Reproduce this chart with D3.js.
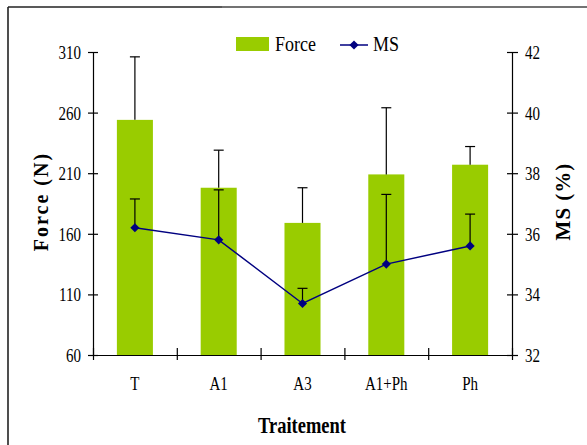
<!DOCTYPE html>
<html>
<head>
<meta charset="utf-8">
<script src="https://cdn.jsdelivr.net/npm/d3@7"></script>
<style>
  html, body { margin: 0; padding: 0; background: #fff; }
  svg { display: block; font-family: "Liberation Serif", "Times New Roman", "DejaVu Serif", serif; }
  svg text { font-family: "Liberation Serif", "Times New Roman", "DejaVu Serif", serif; }
</style>
</head>
<body>
<svg id="chart" width="587" height="445"></svg>
<script>
// ---- data ----
const categories = ["T", "A1", "A3", "A1+Ph", "Ph"];
const forceValues = [254, 198, 169, 209, 217];
const forceErrors = [52, 31, 29, 55, 15];
const msValues = [36.2, 35.8, 33.7, 35.0, 35.6];
const msErrors = [0.95, 1.65, 0.5, 2.3, 1.05];
const forceTicks = [60, 110, 160, 210, 260, 310];
const msTicks = [32, 34, 36, 38, 40, 42];
const seriesNames = ["Force", "MS"];
const xTitle = "Traitement";
const yLeftTitle = "Force (N)";
const yRightTitle = "MS (%)";

(function () {
// ---- layout ----
const svg = d3.select("#chart");
const pLeft = 93, pRight = 512, pTop = 52, pBottom = 355;
const SY = 1.3; // vertical stretch of the original texts
const barColor = "#99CC00";
const lineColor = "#000080";

const x = d3.scaleBand().domain(categories).range([pLeft, pRight])
  .paddingInner(0.57).paddingOuter(0.285);
const xb = d3.scaleLinear().domain([0, categories.length]).range([pLeft, pRight]);
const yL = d3.scaleLinear().domain([60, 310]).range([pBottom, pTop]);
const yR = d3.scaleLinear().domain([32, 42]).range([pBottom, pTop]);
const cx = d => x(d) + x.bandwidth() / 2;

// frame
svg.append("line").attr("x1", 8).attr("x2", 222).attr("y1", 7).attr("y2", 7)
  .attr("stroke", "#222").attr("stroke-width", 1.6);
svg.append("line").attr("x1", 222).attr("x2", 587).attr("y1", 7).attr("y2", 7)
  .attr("stroke", "#444").attr("stroke-width", 1.6);
svg.append("line").attr("x1", 8).attr("x2", 8).attr("y1", 7).attr("y2", 445)
  .attr("stroke", "#222").attr("stroke-width", 1.6);

// bars
svg.append("g").selectAll("rect").data(categories).join("rect")
  .attr("x", d => x(d)).attr("width", x.bandwidth())
  .attr("y", (d, i) => yL(forceValues[i]))
  .attr("height", (d, i) => yL(60) - yL(forceValues[i]))
  .attr("fill", barColor);

// force error bars
const capW = 5;
const fe = svg.append("g").attr("stroke", "#000").attr("stroke-width", 1.2);
categories.forEach((c, i) => {
  const xc = cx(c);
  fe.append("line").attr("x1", xc).attr("x2", xc)
    .attr("y1", yL(forceValues[i])).attr("y2", yL(forceValues[i] + forceErrors[i]));
  fe.append("line").attr("x1", xc - capW).attr("x2", xc + capW)
    .attr("y1", yL(forceValues[i] + forceErrors[i])).attr("y2", yL(forceValues[i] + forceErrors[i]));
});

// MS error bars
const me = svg.append("g").attr("stroke", "#000").attr("stroke-width", 1.2);
categories.forEach((c, i) => {
  const xc = cx(c);
  me.append("line").attr("x1", xc).attr("x2", xc)
    .attr("y1", yR(msValues[i])).attr("y2", yR(msValues[i] + msErrors[i]));
  me.append("line").attr("x1", xc - capW).attr("x2", xc + capW)
    .attr("y1", yR(msValues[i] + msErrors[i])).attr("y2", yR(msValues[i] + msErrors[i]));
});

// MS line
const line = d3.line().x((d, i) => cx(categories[i])).y(d => yR(d));
svg.append("path").datum(msValues).attr("d", line)
  .attr("fill", "none").attr("stroke", lineColor).attr("stroke-width", 1.5);
const diamond = d3.symbol().type(d3.symbolSquare).size(42);
svg.append("g").selectAll("path").data(msValues).join("path")
  .attr("d", diamond)
  .attr("transform", (d, i) => `translate(${cx(categories[i])},${yR(d)}) rotate(45)`)
  .attr("fill", lineColor);

// axes
function styleAxis(g) {
  g.attr("font-family", null);
  g.select(".domain").attr("stroke", "#000").attr("stroke-width", 1.2);
  g.selectAll(".tick line").attr("stroke", "#000").attr("stroke-width", 1.2);
}
const gL = svg.append("g").attr("transform", `translate(${pLeft},0)`)
  .call(d3.axisLeft(yL).tickValues(forceTicks).tickSize(5).tickSizeOuter(0).tickFormat(d3.format("d")));
styleAxis(gL);
gL.selectAll(".tick line").attr("x2", -5).attr("x1", 5);
gL.selectAll(".tick text").attr("x", -12).attr("dy", null).attr("y", 5)
  .attr("transform", `scale(1,${SY})`).style("font-size", "15px").attr("fill", "#000");

const gR = svg.append("g").attr("transform", `translate(${pRight},0)`)
  .call(d3.axisRight(yR).tickValues(msTicks).tickSize(5).tickSizeOuter(0).tickFormat(d3.format("d")));
styleAxis(gR);
gR.selectAll(".tick line").attr("x1", -5).attr("x2", 6);
gR.selectAll(".tick text").attr("x", 13).attr("dy", null).attr("y", 5)
  .attr("transform", `scale(1,${SY})`).style("font-size", "15px").attr("fill", "#000");

// x axis: boundary ticks
const gB = svg.append("g").attr("transform", `translate(0,${pBottom})`)
  .call(d3.axisBottom(xb).tickValues(d3.range(categories.length + 1)).tickSize(5).tickSizeOuter(0).tickFormat(""));
styleAxis(gB);
gB.selectAll(".tick line").attr("y1", -7).attr("y2", 5);
// x axis: labels
const gBL = svg.append("g").attr("transform", `translate(0,${pBottom})`)
  .call(d3.axisBottom(x).tickSize(0));
gBL.attr("font-family", null);
gBL.select(".domain").remove();
gBL.selectAll(".tick text").attr("y", 0).attr("dy", null)
  .attr("transform", `translate(0,35) scale(1,${SY})`)
  .style("font-size", "15px").attr("fill", "#000");

// axis titles
svg.append("text").attr("transform", `translate(302,433) scale(1,${SY})`)
  .attr("text-anchor", "middle").style("font-size", "18.5px").style("font-weight", "bold")
  .text(xTitle);
svg.append("text").attr("transform", `translate(48,${(pTop + pBottom) / 2 - 2}) rotate(-90)`)
  .attr("text-anchor", "middle").style("font-size", "20px").style("font-weight", "bold")
  .style("letter-spacing", "2px").text(yLeftTitle);
svg.append("text").attr("transform", `translate(570,${(pTop + pBottom) / 2 - 2}) rotate(-90)`)
  .attr("text-anchor", "middle").style("font-size", "21px").style("font-weight", "bold")
  .style("letter-spacing", "1px").text(yRightTitle);

// legend
const lg = svg.append("g");
lg.append("rect").attr("x", 236).attr("y", 37).attr("width", 33).attr("height", 14).attr("fill", barColor);
lg.append("text").attr("transform", `translate(275,50.5) scale(1,1.2)`).style("font-size", "18px").text(seriesNames[0]);
lg.append("line").attr("x1", 340).attr("x2", 368).attr("y1", 45).attr("y2", 45)
  .attr("stroke", lineColor).attr("stroke-width", 1.5);
lg.append("path").attr("d", diamond).attr("transform", "translate(354,45) rotate(45)").attr("fill", lineColor);
lg.append("text").attr("transform", `translate(373,50.5) scale(1,1.2)`).style("font-size", "18px").text(seriesNames[1]);
})();
</script>
</body>
</html>
